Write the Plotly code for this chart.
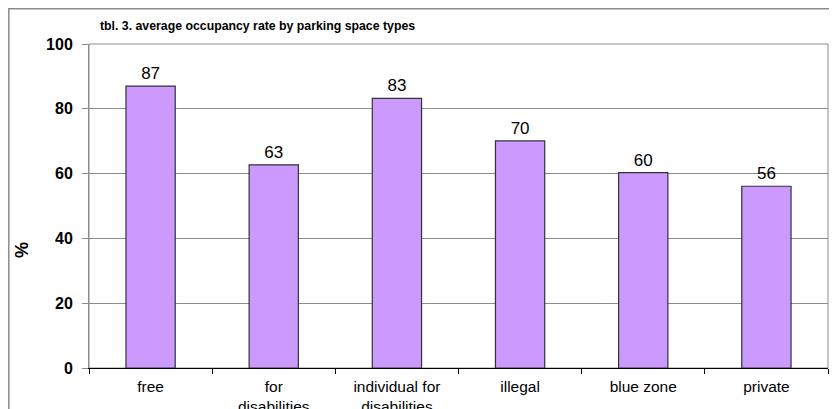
import plotly.graph_objects as go

categories = ["free", "for<br>disabilities", "individual for<br>disabilities", "illegal", "blue zone", "private"]
values = [87, 62.7, 83.2, 70.1, 60.3, 56.1]
labels = ["87", "63", "83", "70", "60", "56"]
y_ticks = [0, 20, 40, 60, 80, 100]

FONT = "Arial, Liberation Sans, sans-serif"
W, H = 837, 409
OFF = 8  # page body margin offset
L, R, T, B = 89 - OFF, W - (828 - OFF), 44 - OFF, H - (368 - OFF)
PW, PH = W - L - R, H - T - B

fig = go.Figure()
fig.add_trace(go.Bar(
    x=categories, y=values, text=labels, textposition="outside",
    textfont=dict(family=FONT, size=17, color="black"),
    marker=dict(color="#CC99FF", line=dict(color="#333333", width=1.2)),
    width=0.4, cliponaxis=False,
))

fig.update_layout(
    width=W, height=H,
    margin=dict(l=L, r=R, t=T, b=B, autoexpand=False),
    paper_bgcolor="white", plot_bgcolor="white",
    showlegend=False,
    font=dict(family=FONT, color="black"),
    title=dict(text="<b>tbl. 3. average occupancy rate by parking space types</b>",
               font=dict(family=FONT, size=12.3, color="black"),
               x=(100 - 89) / PW, xref="paper", xanchor="left",
               y=1 - (26 - OFF) / H, yref="container", yanchor="middle"),
    xaxis=dict(
        showline=True, linecolor="#000000", linewidth=1,
        ticks="outside", tickson="boundaries", ticklen=5, tickcolor="#000000",
        tickfont=dict(family=FONT, size=15.5, color="black"),
        ticklabelstandoff=4,
        showgrid=False, automargin=False,
    ),
    yaxis=dict(
        range=[0, 100], tickvals=y_ticks,
        ticktext=[f"<b>{v}</b>" for v in y_ticks],
        tickfont=dict(family=FONT, size=16, color="black"),
        showgrid=True, gridcolor="#8C8C8C", gridwidth=1,
        showline=True, linecolor="#8C8C8C", linewidth=1,
        ticks="outside", ticklen=6, tickcolor="#8C8C8C",
        ticklabelstandoff=6,
        zeroline=False, automargin=False,
    ),
    annotations=[
        dict(text="<b>%</b>", xref="paper", yref="paper",
             x=(22 - 89) / PW, y=(368 - 250) / PH, xanchor="center", yanchor="middle",
             textangle=-90, showarrow=False,
             font=dict(family=FONT, size=18, color="black")),
    ],
    shapes=[
        dict(type="rect", xref="paper", yref="paper", x0=0, x1=1, y0=0, y1=1,
             line=dict(color="#8C8C8C", width=1), layer="below"),
        dict(type="rect", xref="paper", yref="paper",
             x0=(0.8 - L) / PW, x1=(836 - OFF - L) / PW,
             y0=(H - B - 430) / PH, y1=1 + (T - 0.8) / PH,
             line=dict(color="#8C8C8C", width=1.5), layer="below"),
    ],
)

fig.write_html("out.html")
